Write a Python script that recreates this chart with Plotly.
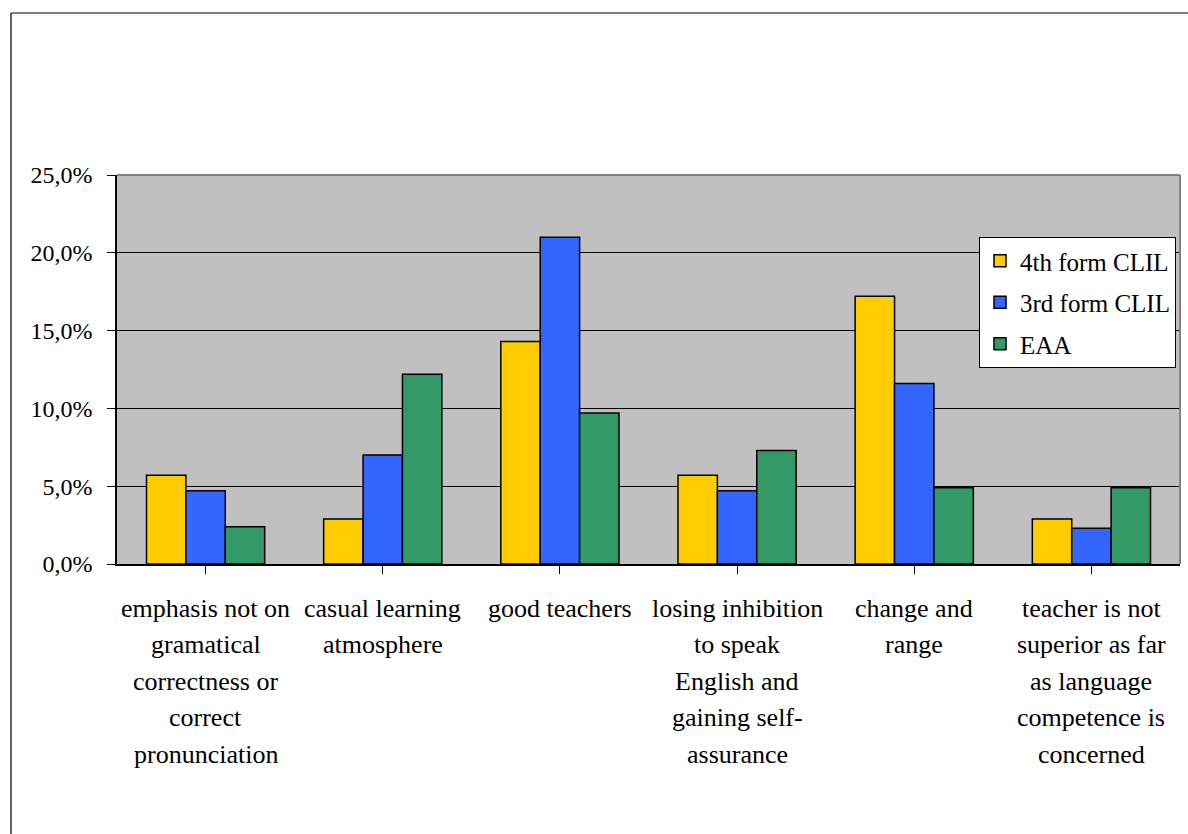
import plotly.graph_objects as go

categories = [
    ["emphasis not on", "gramatical", "correctness or", "correct", "pronunciation"],
    ["casual learning", "atmosphere"],
    ["good teachers"],
    ["losing inhibition", "to speak", "English and", "gaining self-", "assurance"],
    ["change and", "range"],
    ["teacher is not", "superior as far", "as language", "competence is", "concerned"],
]
series_names = ["4th form CLIL", "3rd form CLIL", "EAA"]
form4_clil = [0.057, 0.029, 0.143, 0.057, 0.172, 0.029]
form3_clil = [0.047, 0.070, 0.210, 0.047, 0.116, 0.023]
eaa = [0.024, 0.122, 0.097, 0.073, 0.049, 0.049]
y_ticks = [0.0, 0.05, 0.10, 0.15, 0.20, 0.25]

colors = ["#FFCC00", "#3366FF", "#339966"]
FONT = "Liberation Serif"
W, H = 1188, 834
ML, MR, MT, MB = 117, 8, 175, 270
plot_w = W - ML - MR
plot_h = H - MT - MB

xs = list(range(len(categories)))
fig = go.Figure()
for name, vals, col in zip(series_names, [form4_clil, form3_clil, eaa], colors):
    fig.add_trace(go.Bar(
        x=xs, y=vals, name=name, legendgroup=name,
        marker=dict(color=col, line=dict(color="black", width=1.5)),
    ))

# category labels, one annotation per text line
for i, lines in enumerate(categories):
    for j, line in enumerate(lines):
        fig.add_annotation(
            x=i, y=0, xref="x", yref="paper", text=line, showarrow=False,
            yanchor="middle", xanchor="center", yshift=-44 - j * 36.5,
            font=dict(family=FONT, size=26, color="black"),
        )

# outer chart frame (left and top edges)
fx0 = (11 - ML) / plot_w
fy1 = (H - MB - 13) / plot_h
fig.add_shape(type="line", xref="paper", yref="paper", x0=fx0, x1=fx0,
              y0=-2, y1=fy1, line=dict(color="black", width=1.2))
fig.add_shape(type="line", xref="paper", yref="paper", x0=fx0, x1=1.2,
              y0=fy1, y1=fy1, line=dict(color="black", width=1.2))
# plot area border (top and right)
fig.add_shape(type="line", xref="paper", yref="paper", x0=0, x1=1, y0=1, y1=1,
              line=dict(color="#808080", width=2))
fig.add_shape(type="line", xref="paper", yref="paper", x0=1, x1=1, y0=0, y1=1,
              line=dict(color="#808080", width=2))

fig.update_layout(
    template="none",
    width=W, height=H,
    margin=dict(l=ML, r=MR, t=MT, b=MB),
    paper_bgcolor="white", plot_bgcolor="#C0C0C0",
    separators=", ",
    barmode="group", bargap=0.333, bargroupgap=0,
    font=dict(family=FONT, size=24, color="black"),
    legend=dict(
        x=(979 - ML) / plot_w, y=(H - MB - 237) / plot_h,
        xanchor="left", yanchor="top",
        bgcolor="white", bordercolor="black", borderwidth=1,
        font=dict(family=FONT, size=25, color="black"),
        tracegroupgap=6, itemwidth=30,
    ),
    showlegend=True,
)
fig.update_xaxes(
    range=[-0.5, len(categories) - 0.5], tickvals=xs, showticklabels=False,
    tickson="boundaries", ticks="outside", ticklen=8, tickcolor="black",
    showline=True, linecolor="black", linewidth=1.5, showgrid=False,
    zeroline=False, fixedrange=True,
)
fig.update_yaxes(
    range=[0, 0.25], tickvals=y_ticks, tickformat=".1%",
    ticks="outside", ticklen=8, tickcolor="black", ticklabelstandoff=10,
    showline=True, linecolor="black", linewidth=1.5,
    showgrid=True, gridcolor="black", gridwidth=1, zeroline=False,
    tickfont=dict(family=FONT, size=24, color="black"), fixedrange=True,
)

fig.write_html("out.html")
